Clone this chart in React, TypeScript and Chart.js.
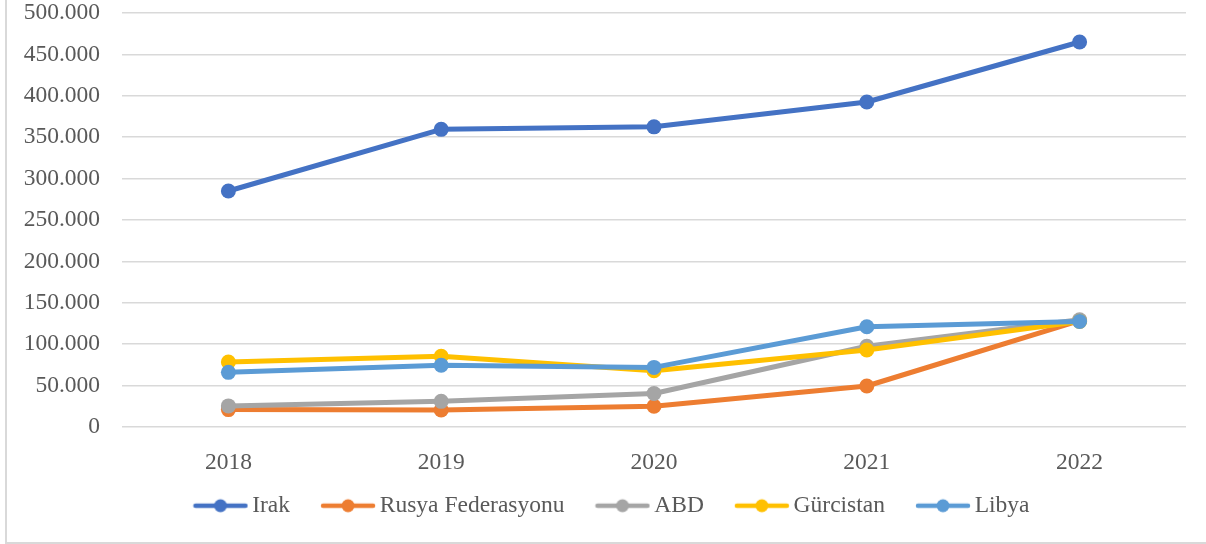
import React, { useEffect, useRef } from 'react';
import { Chart, registerables } from 'chart.js';

Chart.register(...registerables);

const categories = ['2018', '2019', '2020', '2021', '2022'];
const irak = [285000, 359500, 362500, 392500, 465000];
const rusya = [21000, 20500, 25000, 49500, 128500];
const abd = [25500, 31000, 40500, 97500, 129500];
const gurcistan = [78500, 85500, 68000, 93000, 127500];
const libya = [66000, 74500, 72000, 121000, 127500];

const seriesNames = ['Irak', 'Rusya Federasyonu', 'ABD', 'Gürcistan', 'Libya'];
const seriesValues = [irak, rusya, abd, gurcistan, libya];
const seriesColors = ['#4472C4', '#ED7D31', '#A5A5A5', '#FFC000', '#5B9BD5'];

const yMin = 0;
const yMax = 500000;
const yStep = 50000;

const FONT = '"Liberation Serif", "Times New Roman", serif';
const TEXT = '#595959';

function formatTr(v: number): string {
  const s = Math.round(v).toString();
  return s.replace(/\B(?=(\d{3})+(?!\d))/g, '.');
}

function makeMarker(color: string): HTMLCanvasElement {
  const c = document.createElement('canvas');
  c.width = 56;
  c.height = 16;
  const ctx = c.getContext('2d')!;
  ctx.strokeStyle = color;
  ctx.lineWidth = 4.5;
  ctx.lineCap = 'round';
  ctx.beginPath();
  ctx.moveTo(3, 8);
  ctx.lineTo(53, 8);
  ctx.stroke();
  ctx.fillStyle = color;
  ctx.beginPath();
  ctx.arc(28, 8, 6.5, 0, Math.PI * 2);
  ctx.fill();
  return c;
}

const legendShift = {
  id: 'legendShift',
  afterLayout(chart: any) {
    const lg = chart.legend;
    if (!lg) return;
    const dx = 22;
    const dy = -16;
    lg.left += dx;
    lg.right += dx;
    lg.top += dy;
    lg.bottom += dy;
  },
};

export default function App() {
  const ref = useRef<HTMLCanvasElement | null>(null);

  useEffect(() => {
    document.body.style.margin = '0';
    const markers = seriesColors.map((c) => makeMarker(c));
    const chart = new Chart(ref.current!, {
      type: 'line',
      plugins: [legendShift],
      data: {
        labels: categories,
        datasets: seriesNames.map((name, i) => ({
          label: name,
          data: seriesValues[i],
          borderColor: seriesColors[i],
          backgroundColor: seriesColors[i],
          borderWidth: 5,
          borderCapStyle: 'round' as const,
          borderJoinStyle: 'round' as const,
          pointRadius: 7.5,
          pointBorderWidth: 0,
          pointBackgroundColor: seriesColors[i],
          pointBorderColor: seriesColors[i],
          tension: 0,
          order: seriesNames.length - i,
        })),
      },
      options: {
        responsive: false,
        animation: false,
        layout: { padding: { left: 0, right: 20, top: 13, bottom: 0.5 } },
        plugins: {
          tooltip: { enabled: false },
          legend: {
            position: 'bottom',
            labels: {
              usePointStyle: true,
              pointStyleWidth: 40,
              padding: 38,
              color: TEXT,
              font: { family: FONT, size: 23.5 },
              generateLabels: (ch: any) =>
                ch.data.datasets.map((ds: any, i: number) => ({
                  text: ds.label,
                  fillStyle: ds.backgroundColor,
                  strokeStyle: ds.borderColor,
                  lineWidth: 0,
                  pointStyle: markers[i],
                  hidden: false,
                  datasetIndex: i,
                  fontColor: TEXT,
                })),
            },
          },
        },
        scales: {
          x: {
            offset: true,
            grid: { display: false },
            border: { display: false },
            ticks: {
              color: TEXT,
              padding: 16,
              font: { family: FONT, size: 23.5, lineHeight: 1 },
            },
            afterFit: (s: any) => {
              s.height = 45;
            },
          },
          y: {
            min: yMin,
            max: yMax,
            grid: { color: '#d9d9d9', lineWidth: 1.5, drawTicks: false },
            border: { display: false },
            ticks: {
              stepSize: yStep,
              color: TEXT,
              padding: 22,
              font: { family: FONT, size: 23.5, lineHeight: 1 },
              callback: (v: any) => formatTr(Number(v)),
            },
            afterFit: (s: any) => {
              s.width = 122;
              s.paddingTop = 0;
              s.paddingBottom = 0;
            },
          },
        },
      },
    });
    return () => chart.destroy();
  }, []);

  return (
    <div style={{ position: 'relative', width: 1206, height: 544, overflow: 'hidden', background: '#fff' }}>
      <div
        style={{
          position: 'absolute',
          left: 5,
          top: -10,
          width: 1300,
          bottom: 0,
          borderLeft: '2px solid #d9d9d9',
          borderBottom: '2px solid #d9d9d9',
          boxSizing: 'border-box',
        }}
      />
      <canvas ref={ref} width={1206} height={544} style={{ position: 'absolute', left: 0, top: 0 }} />
    </div>
  );
}
